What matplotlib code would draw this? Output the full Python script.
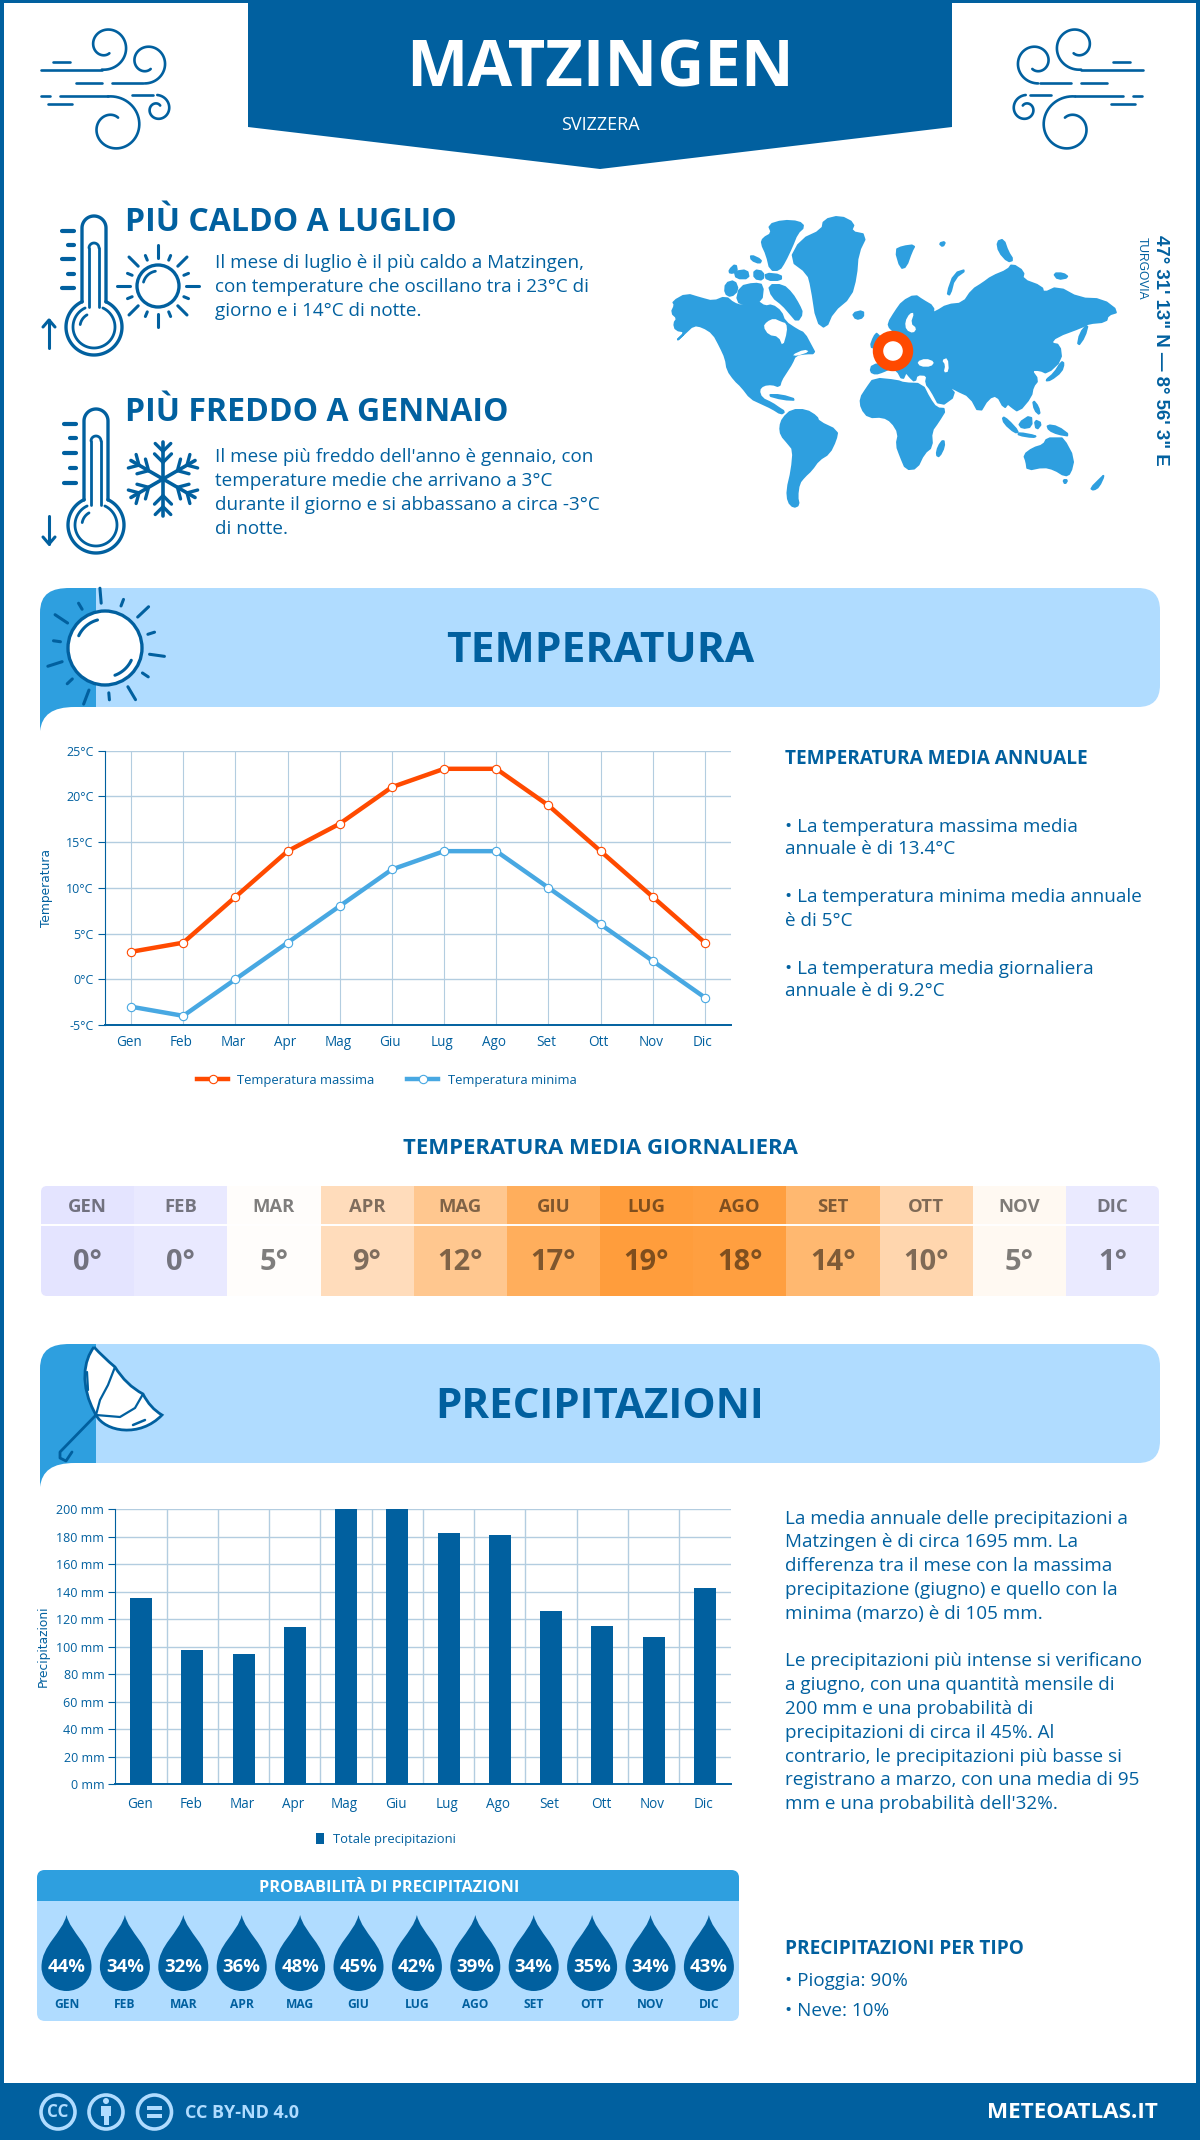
import numpy as np
import matplotlib
matplotlib.use("Agg")
import matplotlib.pyplot as plt
from matplotlib.patches import Polygon, Circle, FancyBboxPatch, PathPatch, Rectangle
from matplotlib.path import Path
from matplotlib.transforms import ScaledTranslation

plt.rcParams["font.family"] = ["Open Sans", "DejaVu Sans"]

# chart data
months = ["Gen", "Feb", "Mar", "Apr", "Mag", "Giu", "Lug", "Ago", "Set", "Ott", "Nov", "Dic"]
months_upper = ["GEN", "FEB", "MAR", "APR", "MAG", "GIU", "LUG", "AGO", "SET", "OTT", "NOV", "DIC"]
temp_max = [3, 4, 9, 14, 17, 21, 23, 23, 19, 14, 9, 4]
temp_min = [-3, -4, 0, 4, 8, 12, 14, 14, 10, 6, 2, -2]
temp_daily = [0, 0, 5, 9, 12, 17, 19, 18, 14, 10, 5, 1]
temp_colors = ["#e4e4ff", "#e9e9ff", "#fffdfb", "#ffdcbb", "#ffc78f", "#ffae5c",
               "#ff9d3c", "#ff9f40", "#ffb870", "#ffd6ae", "#fff9f2", "#eaeaff"]
precip = [135.5, 97.7, 94.8, 114.4, 200, 200, 182.8, 181.3, 126, 115, 107, 142.8]
precip_prob = [44, 34, 32, 36, 48, 45, 42, 39, 34, 35, 34, 43]

DARK = "#01609f"
MID = "#2e9fdf"
LIGHT = "#b0dcff"
ORANGE = "#ff4a00"
GRID = "#b3cde0"
BODY = 18.9


def px(size):
    # font size in pixels to points at dpi 100
    return size * 0.72


fig = plt.figure(figsize=(12, 21.4), dpi=100)
bg = fig.add_axes([0, 0, 1, 1])
bg.set_xlim(0, 1200)
bg.set_ylim(2140, 0)
bg.axis("off")


def text(x, y, s, size, color=DARK, weight="normal", ha="left", va="center", **kw):
    bg.text(x, y + 1.5, s, fontsize=px(size), color=color, fontweight=weight, ha=ha, va=va, **kw)


def stroke(xs, ys, color=DARK, lw=2.0, **kw):
    bg.plot(xs, ys, color=color, lw=lw, solid_capstyle="round", **kw)


def spiral(cx, cy, r0, r1, a0, a1, flip=False, lw=1.9):
    t = np.linspace(0, 1, 80)
    a = np.radians(a0 + (a1 - a0) * t)
    r = r0 + (r1 - r0) * t
    x = cx + r * np.cos(a)
    y = cy + r * np.sin(a)
    if flip:
        x = 1183 - x
    stroke(x, y, lw=lw)


def wind_icon(flip=False):
    def seg(x0, x1, y, lw=1.9):
        xs = [1183 - x0, 1183 - x1] if flip else [x0, x1]
        stroke(xs, [y, y], lw=lw)

    seg(40.5, 102, 70)
    spiral(106, 46, 24, 8, 100, -295, flip)
    seg(53, 70, 61.7)
    seg(76, 102, 83.3)
    seg(112, 143, 83.3)
    spiral(146.7, 62, 21.5, 8, 95, -300, flip)
    seg(40.7, 50, 96)
    seg(60, 108, 96)
    spiral(113.3, 127, 31, 10.5, -100, 297, flip)
    seg(48, 72, 104)
    seg(131.7, 153, 95)
    spiral(157.3, 109, 14, 4.5, -90, 310, flip)


def thermometer(cx, top, by, marks, arrow):
    a = np.radians(np.linspace(-180, 0, 30))
    outline_x = [cx - 12] + list(cx + 12 * np.cos(a)) + [cx + 12]
    outline_y = [by - 25] + list(top + 12 + 12 * np.sin(a)) + [by - 25]
    stroke(outline_x, outline_y, lw=2.4)
    t = np.radians(np.linspace(-65, 245, 80))
    stroke(cx + 28 * np.cos(t), by + 28 * np.sin(t), lw=2.4)
    stroke(cx + 21 * np.cos(t), by + 21 * np.sin(t), lw=2)
    stroke([cx - 5, cx - 5], [by - 20, top + 32], lw=2)
    stroke([cx + 5, cx + 5], [by - 20, top + 32], lw=2)
    a2 = np.radians(np.linspace(-180, 0, 20))
    stroke(cx + 5 * np.cos(a2), top + 32 + 5 * np.sin(a2), lw=2)
    a3 = np.radians(np.linspace(190, 240, 20))
    stroke(cx + 14 * np.cos(a3), by + 14 * np.sin(a3), lw=2)
    for i, m in enumerate(marks):
        w = 12 if i % 2 == 0 else 6
        stroke([cx - 20 - w, cx - 20], [m, m], lw=3)
    x0, y0, y1 = arrow
    stroke([x0, x0], [y0, y1], lw=2.2)
    d = 7 if y1 < y0 else -7
    stroke([x0 - 6, x0, x0 + 6], [y1 + d, y1, y1 + d], lw=2.2)


def sun_small(cx, cy):
    bg.add_patch(Circle((cx, cy), 21, fc="none", ec=DARK, lw=2.4))
    a = np.radians(np.linspace(195, 260, 20))
    stroke(cx + 15 * np.cos(a), cy + 15 * np.sin(a), lw=2)
    for i in range(16):
        an = np.radians(i * 22.5)
        r1 = 41 if i % 2 == 0 else 33
        stroke([cx + 28 * np.cos(an), cx + r1 * np.cos(an)],
               [cy + 28 * np.sin(an), cy + r1 * np.sin(an)], lw=2.2)


def snowflake(cx, cy, r=37):
    for deg in range(0, 360, 60):
        an = np.radians(deg + 90)
        ux, uy = np.cos(an), np.sin(an)
        stroke([cx, cx + r * ux], [cy, cy + r * uy], lw=2.6)
        for f, b in [(0.45, 12), (0.75, 11)]:
            for sgn in (-1, 1):
                an2 = an + sgn * np.radians(135)
                x0, y0 = cx + f * r * ux, cy + f * r * uy
                stroke([x0, x0 + b * np.cos(an2 + np.pi)],
                       [y0, y0 + b * np.sin(an2 + np.pi)], lw=2.4)


def banner(top, title, size):
    h = 119
    # darker tail behind the left end
    tail = Path([(40, top + 25), (40, top + 5), (52, top), (70, top), (96, top),
                 (96, top + h), (75, top + h), (52, top + h), (42, top + h + 8), (40, top + h + 24), (40, top + 25)],
                [Path.MOVETO, Path.CURVE4, Path.CURVE4, Path.CURVE4, Path.LINETO, Path.LINETO, Path.LINETO,
                 Path.CURVE4, Path.CURVE4, Path.CURVE4, Path.CLOSEPOLY])
    bg.add_patch(FancyBboxPatch((70, top), 1090, h, boxstyle="round,pad=0,rounding_size=22", fc=LIGHT, ec="none"))
    bg.add_patch(PathPatch(tail, fc=MID, ec="none"))
    text(600, top + 62.5, title, size, weight="bold", ha="center")


def smooth(points, rounds=1):
    # corner cutting so the hand traced outlines look less blocky
    pts = np.array(points, dtype=float)
    for _ in range(rounds):
        nxt = np.roll(pts, -1, axis=0)
        pts = np.column_stack([0.75 * pts + 0.25 * nxt, 0.25 * pts + 0.75 * nxt]).reshape(-1, 2)
    return pts


# frame and header
bg.add_patch(Rectangle((0, 0), 1200, 3, fc=DARK, ec="none"))
bg.add_patch(Rectangle((0, 0), 4, 2140, fc=DARK, ec="none"))
bg.add_patch(Rectangle((1196, 0), 4, 2140, fc=DARK, ec="none"))
bg.add_patch(Polygon([(248, 0), (952, 0), (952, 127), (600, 169), (248, 127)], fc=DARK, ec="none"))
text(600, 68.5, "MATZINGEN", 65, color="white", weight="bold", ha="center")
text(600, 123, "SVIZZERA", 18, color="white", ha="center")
wind_icon()
wind_icon(flip=True)

# hottest / coldest blocks
text(125, 221, "PIÙ CALDO A LUGLIO", 32, weight="bold")
for y, s in zip([262, 286, 309], ["Il mese di luglio è il più caldo a Matzingen,",
                                  "con temperature che oscillano tra i 23°C di",
                                  "giorno e i 14°C di notte."]):
    text(215, y, s, BODY)
thermometer(94, 216, 327, [231, 245, 259, 274, 288], (49, 348, 320))
sun_small(158, 286)

text(125, 411, "PIÙ FREDDO A GENNAIO", 32, weight="bold")
for y, s in zip([456, 480, 503, 527], ["Il mese più freddo dell'anno è gennaio, con",
                                       "temperature medie che arrivano a 3°C",
                                       "durante il giorno e si abbassano a circa -3°C",
                                       "di notte."]):
    text(215, y, s, BODY)
thermometer(96, 409, 525, [424, 438, 453, 468, 483], (49, 516, 544))
snowflake(163, 479)

# world map, rough outlines
land = [
    [(88, 368), (98, 345), (92, 335), (130, 312), (170, 325), (205, 335), (240, 320), (262, 340), (285, 348),
     (330, 335), (350, 350), (370, 345), (395, 365), (405, 395), (440, 420), (460, 430), (480, 470), (490, 490),
     (465, 490), (435, 495), (425, 520), (410, 545), (395, 570), (390, 590), (370, 582), (345, 585), (332, 600),
     (340, 625), (370, 640), (390, 655), (405, 665), (395, 672), (370, 655), (340, 640), (310, 625), (285, 590),
     (265, 570), (245, 540), (240, 505), (225, 470), (205, 430), (175, 410), (150, 405), (125, 430), (100, 455),
     (128, 425), (100, 420), (95, 400), (105, 385)],
    [(360, 285), (400, 285), (425, 310), (445, 345), (455, 370), (440, 395), (420, 370), (400, 345), (370, 320)],
    [(340, 160), (345, 145), (370, 130), (360, 105), (400, 92), (445, 95), (460, 110), (440, 130), (425, 170),
     (405, 215), (390, 240), (365, 240), (355, 195)],
    [(420, 210), (450, 150), (510, 120), (515, 90), (560, 78), (600, 100), (590, 125), (635, 135), (610, 190),
     (605, 260), (590, 320), (540, 365), (520, 415), (495, 395), (480, 290), (470, 250)],
    [(240, 280), (265, 272), (275, 300), (255, 320), (238, 310)],
    [(280, 290), (320, 280), (345, 285), (340, 335), (300, 345), (270, 335)],
    [(250, 240), (268, 222), (272, 245), (252, 250)],
    [(265, 245), (300, 240), (305, 265), (270, 265)],
    [(320, 240), (345, 245), (345, 270), (320, 265)],
    [(350, 250), (395, 255), (395, 270), (355, 270)],
    [(310, 195), (340, 210), (335, 220), (312, 210)],
    [(392, 710), (400, 685), (425, 660), (465, 660), (495, 680), (500, 695), (553, 722), (548, 750), (530, 790),
     (500, 810), (480, 840), (460, 860), (445, 880), (440, 920), (445, 945), (430, 952), (415, 935), (412, 900),
     (425, 840), (430, 780), (415, 760), (395, 735)],
    [(617, 625), (635, 595), (655, 565), (720, 572), (740, 580), (790, 582), (810, 625), (830, 655), (857, 657),
     (835, 695), (815, 725), (818, 770), (795, 790), (775, 835), (745, 838), (730, 800), (718, 765), (725, 730),
     (705, 695), (680, 680), (640, 682), (620, 655)],
    [(645, 545), (650, 525), (690, 520), (680, 480), (695, 440), (710, 420), (700, 415), (695, 400), (715, 365),
     (735, 335), (770, 315), (790, 330), (822, 350), (820, 375), (800, 378), (830, 365), (860, 345), (905, 340),
     (930, 300), (960, 280), (985, 260), (1030, 240), (1042, 222), (1075, 245), (1070, 268), (1125, 290), (1130, 310),
     (1170, 290), (1230, 325), (1295, 328), (1340, 365), (1310, 375), (1305, 395), (1255, 400), (1240, 410),
     (1165, 440), (1150, 460), (1175, 465), (1180, 510), (1140, 550), (1120, 540), (1095, 540), (1115, 570),
     (1100, 590), (1095, 620), (1060, 665), (1040, 650), (1030, 640), (1020, 655), (1000, 615), (975, 625),
     (950, 670), (925, 620), (885, 600), (860, 585), (885, 615), (840, 650), (815, 600), (800, 580), (805, 555),
     (775, 553), (770, 575), (755, 560), (745, 545), (735, 570), (720, 540), (700, 535), (680, 545), (660, 552)],
    [(1075, 795), (1100, 775), (1130, 765), (1140, 745), (1170, 745), (1185, 745), (1215, 805), (1205, 850),
     (1190, 858), (1160, 838), (1130, 830), (1085, 840), (1082, 815)],
    [(830, 795), (835, 770), (850, 748), (852, 770), (838, 800)],
    [(595, 370), (625, 362), (625, 382), (605, 388)],
    [(645, 470), (655, 440), (665, 428), (680, 465), (660, 475)],
    [(1135, 572), (1160, 550), (1180, 515), (1187, 520), (1180, 545), (1150, 570)],
    [(1225, 470), (1232, 430), (1255, 400), (1245, 440)],
    [(1015, 680), (1030, 690), (1060, 725), (1050, 728), (1020, 700)],
    [(1060, 728), (1110, 738), (1100, 742), (1060, 735)],
    [(1060, 700), (1095, 675), (1097, 710), (1070, 715)],
    [(1105, 690), (1125, 700), (1110, 720)],
    [(1140, 705), (1170, 710), (1205, 738), (1170, 732), (1145, 720)],
    [(1100, 630), (1115, 650), (1120, 675), (1105, 660)],
    [(1262, 895), (1290, 865), (1300, 855), (1285, 890), (1270, 900)],
    [(1185, 870), (1197, 870), (1190, 882)],
    [(715, 180), (735, 170), (770, 165), (760, 185), (745, 230), (730, 235)],
    [(838, 160), (855, 155), (848, 170)],
    [(860, 310), (880, 250), (915, 238), (880, 265), (868, 315)],
    [(1000, 155), (1018, 148), (1030, 185), (1045, 210), (1030, 215), (1005, 185)],
    [(1158, 250), (1185, 250), (1200, 262), (1170, 268)],
    [(355, 615), (395, 615), (440, 630), (400, 628)],
]
holes = [
    [(345, 410), (355, 395), (375, 385), (395, 395), (410, 400), (412, 425), (400, 470), (388, 440), (360, 435)],
    [(775, 515), (800, 505), (825, 515), (815, 530), (785, 530)],
    [(845, 510), (862, 503), (865, 545), (850, 548), (855, 525)],
    [(745, 420), (742, 395), (755, 370), (768, 368), (758, 400), (775, 415), (765, 430)],
    [(425, 495), (460, 478), (475, 485), (440, 498)],
]
for shape in land:
    bg.add_patch(Polygon([(640 + x / 2.8, 190 + y / 3) for x, y in smooth(shape)], fc=MID, ec=MID, lw=1.4,
                         joinstyle="round"))
for shape in holes:
    bg.add_patch(Polygon([(640 + x / 2.8, 190 + y / 3) for x, y in smooth(shape)], fc="white", ec="none"))
bg.add_patch(Circle((893, 351), 15, fc="white", ec=ORANGE, lw=7.5))
bg.text(1161, 350, "47° 31' 13\" N — 8° 56' 3\" E", fontsize=px(18.6), color=DARK, fontweight="bold",
        family="Liberation Sans", rotation=-90, ha="center", va="center")
bg.text(1142, 237, "TURGOVIA", fontsize=px(12), color=DARK, family="Liberation Sans",
        rotation=-90, ha="center", va="top")

# temperature section
banner(588, "TEMPERATURA", 42.5)
bg.add_patch(Circle((105, 648), 37, fc="white", ec=DARK, lw=2.4))
for i in range(14):
    an = np.radians(i * 360 / 14 + 8)
    r1 = 60 if i % 2 == 0 else 52
    stroke([105 + 45 * np.cos(an), 105 + r1 * np.cos(an)],
           [648 + 45 * np.sin(an), 648 + r1 * np.sin(an)], lw=2.2)
a = np.radians(np.linspace(205, 255, 20))
stroke(105 + 29 * np.cos(a), 648 + 29 * np.sin(a), lw=2.2)
a = np.radians(np.linspace(25, 70, 20))
stroke(105 + 29 * np.cos(a), 648 + 29 * np.sin(a), lw=2.2)


def shift_labels(axis, dx):
    # category labels sit a little left of their ticks in the original
    for label in axis.get_xticklabels():
        label.set_transform(label.get_transform() + ScaledTranslation(dx / 100, 0, fig.dpi_scale_trans))


ax = fig.add_axes([105 / 1200, 1 - 1025 / 2140, 626 / 1200, 274.5 / 2140], facecolor="none")
ax.plot(months, temp_max, color=ORANGE, lw=3.2, marker="o", ms=6, mfc="white", mec=ORANGE, mew=0.8,
        label="Temperatura massima")
ax.plot(months, temp_min, color="#48a8e2", lw=3.2, marker="o", ms=6, mfc="white", mec="#48a8e2", mew=0.8,
        label="Temperatura minima")
ax.set_xlim(-0.5, 11.5)
ax.set_ylim(-5, 25)
ax.set_yticks(range(-5, 26, 5))
ax.set_yticklabels([f"{v}°C" for v in range(-5, 26, 5)])
ax.set_ylabel("Temperatura", fontsize=px(12.3), color=DARK, family="DejaVu Sans", labelpad=9.5)
ax.grid(axis="y", color=GRID, lw=1)
ax.grid(axis="x", color=GRID, lw=0.8)
ax.set_axisbelow(True)
for s in ["top", "right"]:
    ax.spines[s].set_visible(False)
ax.spines["left"].set_color(DARK)
ax.spines["bottom"].set_color(DARK)
ax.spines["bottom"].set_linewidth(1.4)
ax.tick_params(axis="y", length=5, color=DARK, labelsize=px(12.5), labelcolor=DARK, pad=3)
ax.tick_params(axis="x", length=0, labelsize=px(13.5), labelcolor=DARK, pad=7.5)
shift_labels(ax, -2)
ax.legend(loc="upper center", bbox_to_anchor=(0.45, -0.135), ncol=2, frameon=False, fontsize=px(13),
          labelcolor=DARK, columnspacing=2.5, handlelength=2.4, handletextpad=0.7)

text(785, 757, "TEMPERATURA MEDIA ANNUALE", 19, weight="bold")
for y, s in zip([825, 848, 896, 919, 967, 990],
                ["• La temperatura massima media", "annuale è di 13.4°C",
                 "• La temperatura minima media annuale", "è di 5°C",
                 "• La temperatura media giornaliera", "annuale è di 9.2°C"]):
    text(785, y, s, BODY)

# daily mean table
text(600, 1147.5, "TEMPERATURA MEDIA GIORNALIERA", 22.2, weight="bold", ha="center")
cell = (1159 - 41) / 12
table_clip = FancyBboxPatch((41, 1186), 1118, 110, boxstyle="round,pad=0,rounding_size=6", transform=bg.transData)
for i, (m, v, c) in enumerate(zip(months_upper, temp_daily, temp_colors)):
    r = Rectangle((41 + i * cell, 1186), cell + 0.5, 110, fc=c, ec="none")
    bg.add_patch(r)
    r.set_clip_path(table_clip)
    text(41 + (i + 0.5) * cell, 1205, m, 18.5, color="#00000080", weight="bold", ha="center")
    text(41 + (i + 0.5) * cell, 1260.5, f"{v}°", 29, color="#00000080", weight="bold", ha="center")
bg.plot([41, 1159], [1225, 1225], color="white", lw=1.4)

# precipitation section
banner(1344, "PRECIPITAZIONI", 42)
umbrella = Path([(94, 1347), (84, 1360), (79, 1385), (96, 1415), (105, 1432), (140, 1438), (162, 1415),
                 (150, 1408), (143, 1394), (126, 1385), (115, 1367), (103, 1357), (94, 1347)],
                [Path.MOVETO] + [Path.CURVE4] * 6 + [Path.CURVE3] * 6)
bg.add_patch(PathPatch(umbrella, fc="white", ec=DARK, lw=2))
stroke([96, 60, 60, 66, 72], [1415, 1452, 1458, 1461, 1452], lw=2)
stroke([115, 108, 100, 96], [1367, 1385, 1400, 1415], lw=1.6)
stroke([143, 135, 120, 96], [1394, 1408, 1417, 1415], lw=1.6)
stroke([87, 88], [1372, 1390], lw=1.6)
stroke([133, 145], [1425, 1420], lw=1.8)

ax2 = fig.add_axes([115.4 / 1200, 1 - 1784.3 / 2140, 615.1 / 1200, 275.3 / 2140], facecolor="none")
ax2.bar(months, precip, width=0.43, color=DARK, label="Totale precipitazioni", zorder=3)
ax2.set_xlim(-0.5, 11.5)
ax2.set_ylim(0, 200)
ax2.set_yticks(range(0, 201, 20))
ax2.set_yticklabels([f"{v} mm" for v in range(0, 201, 20)])
ax2.set_xticks(np.arange(0.5, 11), minor=True)
ax2.set_ylabel("Precipitazioni", fontsize=px(12.3), color=DARK, family="DejaVu Sans", labelpad=4.5)
ax2.grid(axis="y", color=GRID, lw=1)
ax2.grid(axis="x", which="minor", color=GRID, lw=1)
ax2.set_axisbelow(True)
for s in ["top", "right"]:
    ax2.spines[s].set_visible(False)
ax2.spines["left"].set_color(DARK)
ax2.spines["bottom"].set_color(DARK)
ax2.spines["bottom"].set_linewidth(1.4)
ax2.tick_params(axis="y", length=5, color=DARK, labelsize=px(12.5), labelcolor=DARK, pad=3)
ax2.tick_params(axis="x", which="both", length=0, labelsize=px(13.5), labelcolor=DARK, pad=9)
shift_labels(ax2, -1.5)
ax2.legend(loc="upper center", bbox_to_anchor=(0.44, -0.135), frameon=False, fontsize=px(13), labelcolor=DARK,
           handlelength=0.65, handleheight=0.9, handletextpad=0.7)

precip_lines = ["La media annuale delle precipitazioni a", "Matzingen è di circa 1695 mm. La",
                "differenza tra il mese con la massima", "precipitazione (giugno) e quello con la",
                "minima (marzo) è di 105 mm.", "",
                "Le precipitazioni più intense si verificano", "a giugno, con una quantità mensile di",
                "200 mm e una probabilità di", "precipitazioni di circa il 45%. Al",
                "contrario, le precipitazioni più basse si", "registrano a marzo, con una media di 95",
                "mm e una probabilità dell'32%."]
for i, s in enumerate(precip_lines):
    text(785, 1517 + 23.8 * i, s, BODY)

# rain probability panel
bg.add_patch(FancyBboxPatch((37, 1870), 702, 151, boxstyle="round,pad=0,rounding_size=8", fc=LIGHT, ec="none"))
bg.add_patch(FancyBboxPatch((37, 1870), 702, 31, boxstyle="round,pad=0,rounding_size=8", fc=MID, ec="none"))
bg.add_patch(Rectangle((37, 1885), 702, 16, fc=MID, ec="none"))
text(389, 1886, "PROBABILITÀ DI PRECIPITAZIONI", 16.2, color="white", weight="bold", ha="center")
for i, (p, m) in enumerate(zip(precip_prob, months_upper)):
    cx = 66.5 + i * 58.4
    top, mid, bot, w = 1915, 1967, 1991, 25
    drop = Path([(cx, top), (cx + 4, top + 18), (cx + w, mid - 22), (cx + w, mid), (cx + w, mid + 14),
                 (cx + 13, bot), (cx, bot), (cx - 13, bot), (cx - w, mid + 14), (cx - w, mid),
                 (cx - w, mid - 22), (cx - 4, top + 18), (cx, top)],
                [Path.MOVETO] + [Path.CURVE4] * 12)
    bg.add_patch(PathPatch(drop, fc=DARK, ec="none"))
    text(cx, 1966, f"{p}%", 18.5, color="white", weight="bold", ha="center")
    text(cx, 2003, m, 12, weight="bold", ha="center")

text(785, 1947, "PRECIPITAZIONI PER TIPO", 19, weight="bold")
text(785, 1980, "• Pioggia: 90%", BODY)
text(785, 2009, "• Neve: 10%", BODY)

# footer
bg.add_patch(Rectangle((0, 2083), 1200, 57, fc=DARK, ec="none"))
for cx in [58, 106, 154.5]:
    bg.add_patch(Circle((cx, 2112), 17, fc="none", ec=LIGHT, lw=2.6))
text(58, 2110.5, "CC", 17, color=LIGHT, weight="bold", ha="center")
bg.add_patch(Circle((106, 2101), 3, fc=LIGHT, ec="none"))
bg.add_patch(Rectangle((101, 2106), 10, 10, fc=LIGHT, ec="none"))
bg.add_patch(Rectangle((103.5, 2114), 5, 11, fc=LIGHT, ec="none"))
bg.add_patch(Rectangle((147, 2106), 15, 4, fc=LIGHT, ec="none"))
bg.add_patch(Rectangle((147, 2114), 15, 4, fc=LIGHT, ec="none"))
text(185, 2111, "CC BY-ND 4.0", 18, color=LIGHT, weight="bold")
text(1158, 2111.5, "METEOATLAS.IT", 22.4, color="white", weight="bold", ha="right")

fig.savefig("out.png", dpi=100)
